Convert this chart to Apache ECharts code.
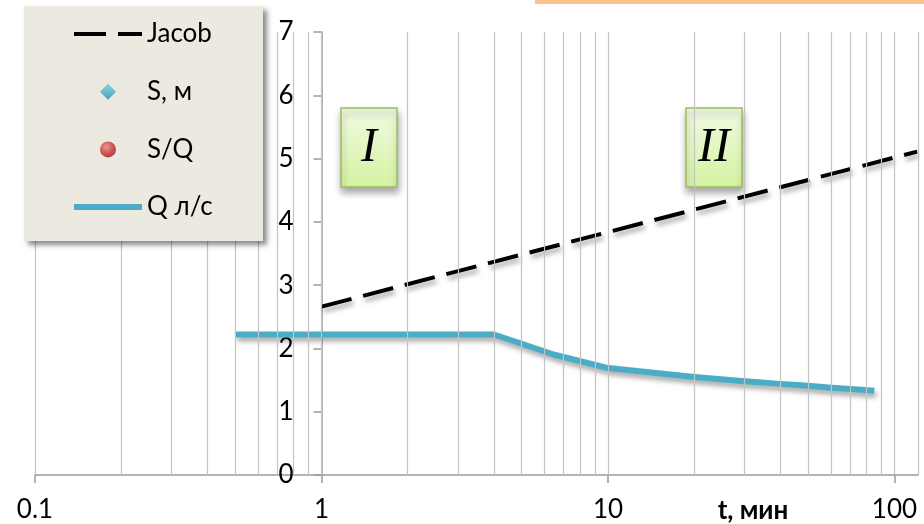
<!DOCTYPE html>
<html>
<head>
<meta charset="utf-8">
<script src="https://cdn.jsdelivr.net/npm/echarts@6/dist/echarts.min.js"></script>
<style>
  html, body { margin: 0; padding: 0; background: #fff; }
  #chart { width: 924px; height: 524px; }
</style>
</head>
<body>
<div id="chart"></div>
<script>
// Jacob straight-line approximation (semi-log)
const jacobT = [1, 120];
const jacobS = [2.66, 5.11];

// Discharge Q, l/s
const qT   = [0.5, 4, 6.5, 10, 20, 30, 40, 50, 60, 70, 85];
const qVal = [2.22, 2.22, 1.9, 1.69, 1.55, 1.48, 1.44, 1.41, 1.38, 1.36, 1.33];

// Drawdown series (legend only)
const sM = [];
const sQ = [];

// Axis values
const xMin = 0.1, xMax = 120.8;
const xTickValues = [0.1, 1, 10, 100];
const xTickLabels = ['0.1', '1', '10', '100'];
const xGridLines = [0.1, 0.2, 0.3, 0.4, 0.5, 0.6, 0.7, 0.8, 0.9,
                    1, 2, 3, 4, 5, 6, 7, 8, 9,
                    10, 20, 30, 40, 50, 60, 70, 80, 90, 100];
const yMin = 0, yMax = 7, yStep = 1;

const seriesNames = ['Jacob', 'S, м', 'S/Q', 'Q л/с'];
const FONT = 'Lato';
const GRID_COLOR = '#C4C4C4';
const AXIS_COLOR = '#9A9A9A';

// legend glyphs drawn in a 68 x 16 box
const ICON_DASH = 'path://M0,0L68,0L68,0.01Z M0,6H32V10H0Z M44,6H68V10H44Z M0,16L68,16L68,15.99Z';
const ICON_BAR  = 'path://M0,0L68,0L68,0.01Z M0,5H68V11H0Z M0,16L68,16L68,15.99Z';
const ICON_DIAMOND = 'path://M0,0L68,0L68,0.01Z M34,0L42,8L34,16L26,8Z M0,16L68,16L68,15.99Z';

const chart = echarts.init(document.getElementById('chart'));

const shadow = { shadowColor: 'rgba(0,0,0,0.35)', shadowBlur: 5, shadowOffsetX: 2, shadowOffsetY: 4 };

function romanBox(x, y, text) {
  return {
    type: 'group', x: x, y: y, z: 5,
    children: [
      { type: 'rect', shape: { x: 0, y: 0, width: 56, height: 79 },
        style: {
          fill: { type: 'linear', x: 0, y: 0, x2: 0, y2: 1,
                  colorStops: [{ offset: 0, color: '#F1FAE2' }, { offset: 1, color: '#D5F3A2' }] },
          stroke: '#9CBD5C', lineWidth: 1.5,
          shadowColor: 'rgba(0,0,0,0.35)', shadowBlur: 7, shadowOffsetX: 1, shadowOffsetY: 5
        } },
      { type: 'text', x: 28, y: 40,
        style: { text: text, fill: '#000', font: 'italic 48px "Liberation Serif"',
                 textAlign: 'center', textVerticalAlign: 'middle' } }
    ]
  };
}

chart.setOption({
  animation: false,
  backgroundColor: '#fff',
  grid: { left: 35, right: 6, top: 32, bottom: 49 },
  xAxis: {
    type: 'log', logBase: 10, min: xMin, max: xMax,
    axisLine: { show: true, lineStyle: { color: AXIS_COLOR, width: 1.5 } },
    axisTick: { show: true, length: 8, customValues: xTickValues, lineStyle: { color: AXIS_COLOR, width: 1.5 } },
    axisLabel: {
      margin: 22, color: '#000', fontFamily: FONT, fontSize: 26,
      customValues: xTickValues,
      formatter: function (v) {
        const i = xTickValues.findIndex(t => Math.abs(Math.log10(t) - Math.log10(v)) < 1e-6);
        return i >= 0 ? xTickLabels[i] : '';
      }
    },
    splitLine: { show: false },
    minorTick: { show: false }, minorSplitLine: { show: false }
  },
  yAxis: {
    type: 'value', min: yMin, max: yMax, interval: yStep,
    offset: -286.5,
    axisLine: { show: true, lineStyle: { color: AXIS_COLOR, width: 1.5 } },
    axisTick: { show: true, length: 8, lineStyle: { color: AXIS_COLOR, width: 1.5 } },
    axisLabel: { margin: 28, color: '#000', fontFamily: FONT, fontSize: 26 },
    splitLine: { show: false }
  },
  legend: {
    data: [
      { name: seriesNames[0], icon: ICON_DASH },
      { name: seriesNames[1], icon: ICON_DIAMOND,
        itemStyle: { color: { type: 'linear', x: 0, y: 0, x2: 0, y2: 1,
          colorStops: [{ offset: 0, color: '#74C6E2' }, { offset: 0.5, color: '#4AAED0' }, { offset: 1, color: '#2A86AE' }] } } },
      { name: seriesNames[2] },
      { name: seriesNames[3], icon: ICON_BAR }
    ],
    orient: 'vertical', left: 69, top: 16,
    itemWidth: 68, itemHeight: 16, itemGap: 31.7,
    symbolKeepAspect: true,
    textStyle: { fontFamily: FONT, fontSize: 26, color: '#000' },
    lineStyle: { width: 'inherit', shadowBlur: 0, shadowColor: 'transparent', shadowOffsetX: 0, shadowOffsetY: 0 },
    itemStyle: { shadowBlur: 0, shadowColor: 'transparent' },
    z: 10
  },
  graphic: [
    // legend panel
    { type: 'rect', z: 8, shape: { x: 24, y: 6, width: 239, height: 235 },
      style: { fill: '#ECEAE0', shadowColor: 'rgba(0,0,0,0.45)', shadowBlur: 5, shadowOffsetX: 4, shadowOffsetY: 4 } },
    // accent strip along the top edge
    { type: 'rect', z: 8, shape: { x: 535, y: 0, width: 389, height: 4 }, style: { fill: '#FAC391' } },
    romanBox(341, 108, 'I'),
    romanBox(686, 108, 'II'),
    { type: 'text', z: 6, x: 753, y: 511,
      style: { text: 't, мин', fill: '#000', font: 'bold 26px Lato', textAlign: 'center', textVerticalAlign: 'middle' } }
  ],
  series: [
    {
      // vertical grid: every decade subdivision plus the right plot edge
      name: 'grid-lines', type: 'line', data: [], z: 1, silent: true,
      markLine: {
        silent: true, symbol: ['none', 'none'], label: { show: false },
        lineStyle: { color: GRID_COLOR, width: 1.2, type: 'solid' },
        emphasis: { disabled: true },
        data: xGridLines.concat([xMax]).map(v => ({ xAxis: v }))
      }
    },
    {
      name: seriesNames[0], type: 'line', symbol: 'none', z: 3,
      data: jacobT.map((t, i) => [t, jacobS[i]]),
      lineStyle: Object.assign({ color: '#000', width: 4, type: [31, 12], cap: 'butt' }, shadow),
      itemStyle: { color: '#000' }
    },
    {
      name: seriesNames[1], type: 'scatter', symbol: 'diamond', symbolSize: 15,
      data: sM.map(d => d),
      itemStyle: { color: '#4AAED0' }
    },
    {
      name: seriesNames[2], type: 'scatter', symbol: 'circle', symbolSize: 15,
      data: sQ.map(d => d),
      itemStyle: { color: { type: 'radial', x: 0.4, y: 0.35, r: 0.7,
        colorStops: [{ offset: 0, color: '#F2837E' }, { offset: 0.6, color: '#C0302B' }, { offset: 1, color: '#8E1B18' }] } }
    },
    {
      name: seriesNames[3], type: 'line', symbol: 'none', z: 3,
      data: qT.map((t, i) => [t, qVal[i]]),
      lineStyle: Object.assign({ color: '#4BACC6', width: 6, join: 'round' }, shadow),
      itemStyle: { color: '#4BACC6' }
    }
  ]
});
</script>
</body>
</html>
